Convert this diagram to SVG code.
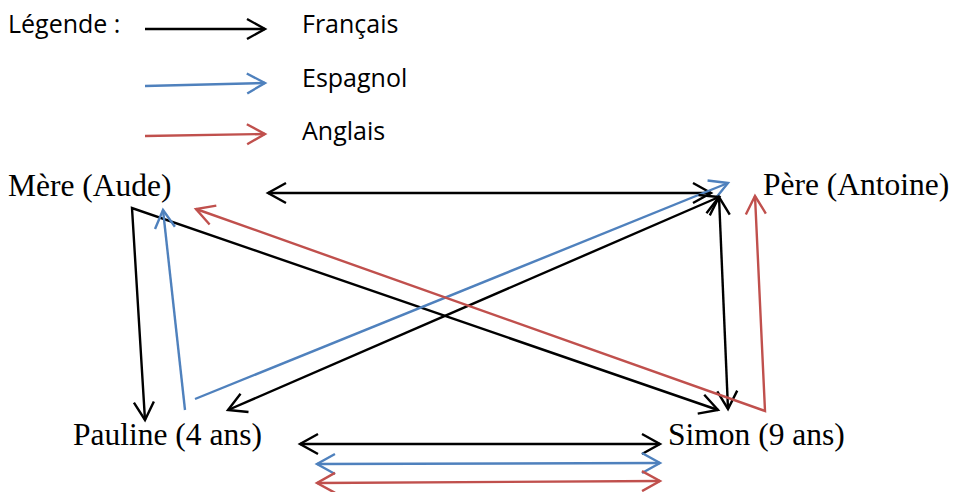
<svg xmlns="http://www.w3.org/2000/svg" width="953" height="492" viewBox="0 0 953 492">
<style>
.lbl{font-family:"Liberation Serif","Times New Roman",serif;font-size:31.5px;fill:#000}
.leg{font-family:"Open Sans","Liberation Sans",sans-serif;font-size:25px;fill:#000}
.c{fill:none;stroke-width:2.4;stroke-linejoin:miter}
.k{stroke:#000}
.b{stroke:#4F81BD}
.r{stroke:#C0504D}
</style>
<defs>
<marker id="ak" markerUnits="userSpaceOnUse" viewBox="-20 -12 22 24" refX="0" refY="0" markerWidth="22" markerHeight="24" orient="auto-start-reverse" overflow="visible">
<path d="M-18,-10 L0,0 L-18,10" fill="none" stroke="#000" stroke-width="2.4"/>
</marker>
<marker id="ab" markerUnits="userSpaceOnUse" viewBox="-20 -12 22 24" refX="0" refY="0" markerWidth="22" markerHeight="24" orient="auto-start-reverse" overflow="visible">
<path d="M-18,-10 L0,0 L-18,10" fill="none" stroke="#4F81BD" stroke-width="2.4"/>
</marker>
<marker id="ar" markerUnits="userSpaceOnUse" viewBox="-20 -12 22 24" refX="0" refY="0" markerWidth="22" markerHeight="24" orient="auto-start-reverse" overflow="visible">
<path d="M-18,-10 L0,0 L-18,10" fill="none" stroke="#C0504D" stroke-width="2.4"/>
</marker>
</defs>
<g id="legend">
<text class="leg" x="8" y="33">Légende :</text>
<line class="c k" x1="145" y1="29" x2="265" y2="29" marker-end="url(#ak)"/>
<text class="leg" x="302" y="33">Français</text>
<line class="c b" x1="145" y1="86" x2="265" y2="83" marker-end="url(#ab)"/>
<text class="leg" x="302" y="87">Espagnol</text>
<line class="c r" x1="145" y1="136" x2="265" y2="134" marker-end="url(#ar)"/>
<text class="leg" x="302" y="140">Anglais</text>
</g>
<g id="mere"><text class="lbl" x="8" y="196">Mère (Aude)</text></g>
<g id="pere"><text class="lbl" x="763" y="195">Père (Antoine)</text></g>
<g id="pauline"><text class="lbl" x="73" y="445">Pauline (4 ans)</text></g>
<g id="simon"><text class="lbl" x="668" y="445">Simon (9 ans)</text></g>
<g id="connectors">
<line class="c k" x1="268" y1="193" x2="711" y2="193" marker-start="url(#ak)" marker-end="url(#ak)"/>
<polyline class="c k" points="145,420 132,208 718,410" marker-start="url(#ak)" marker-end="url(#ak)"/>
<line class="c b" x1="185" y1="410" x2="163" y2="210" marker-end="url(#ab)"/>
<line class="c b" x1="195" y1="399" x2="728" y2="183" marker-end="url(#ab)"/>
<line class="c k" x1="228" y1="410" x2="719" y2="197" marker-start="url(#ak)" marker-end="url(#ak)"/>
<line class="c k" x1="728" y1="409" x2="719" y2="197" marker-start="url(#ak)" marker-end="url(#ak)"/>
<polyline class="c r" points="196,209 765,411 755,196" marker-start="url(#ar)" marker-end="url(#ar)"/>
<line class="c k" x1="300" y1="444" x2="660" y2="444" marker-start="url(#ak)" marker-end="url(#ak)"/>
<line class="c b" x1="317" y1="464" x2="660" y2="463" marker-start="url(#ab)" marker-end="url(#ab)"/>
<line class="c r" x1="317" y1="483" x2="660" y2="481" marker-start="url(#ar)" marker-end="url(#ar)"/>
</g>
</svg>
